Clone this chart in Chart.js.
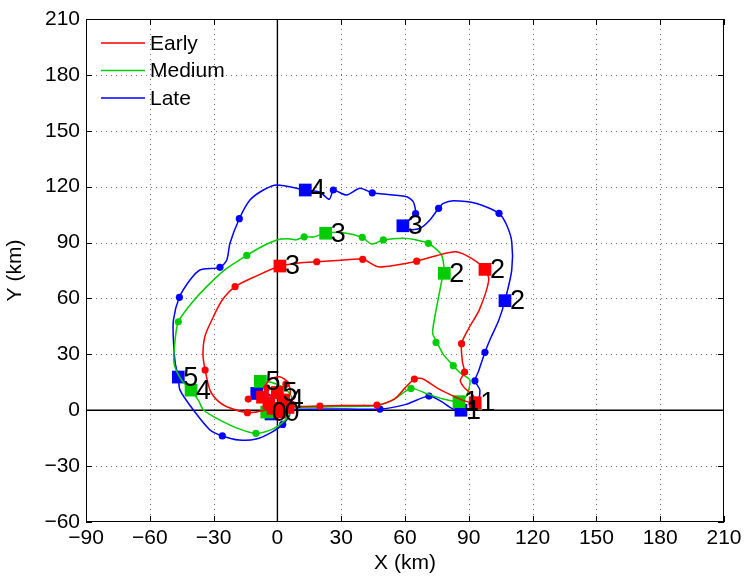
<!DOCTYPE html>
<html>
<head>
<meta charset="utf-8">
<script src="https://cdn.jsdelivr.net/npm/chart.js@4.4.1/dist/chart.umd.min.js"></script>
<style>
  html, body { margin: 0; padding: 0; background: #fff; }
  #wrap { width: 745px; height: 576px; }
</style>
</head>
<body>
<div id="wrap"><canvas id="trackChart" width="745" height="576"></canvas></div>
<script>
// axis ticks
const xTicks = [-90, -60, -30, 0, 30, 60, 90, 120, 150, 180, 210];
const yTicks = [-60, -30, 0, 30, 60, 90, 120, 150, 180, 210];
const seriesNames = ["Early", "Medium", "Late"];

// Early (red) track
const earlyPath = [[0,0],[5,2],[12,2],[20,2.2],[30,2.5],[40,2.6],[47,2.8],[55,6],[60,12],[64.4,16.7],[68,17],[75,12],[82,8],[88,5],[93,4],
  [92,8],[88,12],[86,16],[88,20.5],[87,26],[86.6,35.7],[90,44],[95,54],[99.4,69.9],[97.6,75.6],
  [92,81],[84,85],[75,83],[65.5,80],[56,78],[47.4,77],[40.1,81],[30,80.5],[18.5,79.7],[10,79],[1.2,77.4],
  [-10,72],[-19.9,66.3],[-26,59],[-30.1,50.2],[-34,40],[-35,30],[-34,21.6],[-31.7,10.8],[-28,5],[-23.8,1.9],[-14.1,-1.3],
  [-6,0],[-2,2],[3,5.5],[6,9],[5,15],[1,18],[-4,16],[-6,11],[-3,8],[0,9.5]];
const earlyDots = [[20,2.2],[46.8,2.8],[64.4,16.7],[88,20.5],[86.6,35.7],[65.5,80],[40.1,81],[18.5,79.7],
  [-19.9,66.3],[-34,21.6],[-14.1,-1.3],[-13.7,6],[-8,7],[-5,12],[4,14]];
const earlySquares = [[1,-1],[93,4],[97.6,75.6],[1.2,77.4],[3,5.5],[0,9.5],[-4,4],[-7,7],[5,1.5],[-2,1]];
const earlyLabels = ["0", "1", "2", "3", "4", "5", "", "", "", ""];

// Medium (green) track
const mediumPath = [[0,0],[5,1],[15,1.5],[30,2],[47,2.5],[55,6],[62.8,11.7],[70,9],[78,6],[85.4,4.6],
  [89,8],[90.5,16.2],[86,20],[82.7,23.9],[78,30],[74.9,36.8],[73,41.3],[74,50],[76,62],[77.7,71.7],[78.5,73.5],
  [77.2,83.3],[71,89.6],[65,91.5],[59.2,92.3],[49.8,91.4],[44.3,89.2],[39.9,92.8],[31,95.3],[22.7,95],
  [17,93],[12.6,93.1],[9,91.5],[5,92],[-0.3,91.4],[-7,88],[-14.4,83.1],[-24,76],[-31.7,68.1],[-40,58],[-46.6,47.5],
  [-48.1,37.7],[-48.6,25.2],[-45,16],[-40.6,10.8],
  [-37,5],[-34.8,0.1],[-27,-5.3],[-18,-10],[-10.1,-12.4],[-2,-10],[3,-6],[5.9,-1.5],[6.7,7.2],[3,12],[-3,15],[-8,15.5]];
const mediumDots = [[62.8,11.7],[82.7,23.9],[74.6,36.4],[71,89.6],[49.8,91.4],[39.9,92.8],[12.6,93.1],
  [-14.4,83.1],[-46.6,47.5],[-10.1,-12.4]];
const mediumSquares = [[-5,-1],[85.4,4.6],[78.5,73.5],[22.7,95],[-40.6,10.8],[-8,15.5]];
const mediumLabels = ["0", "1", "2", "3", "4", "5"];

// Late (blue) track
const latePath = [[0,0],[10,0.5],[25,0.7],[48.2,0.6],[60,3],[71.3,7.6],[77.2,4.6],[82,1],[86.3,0],
  [93.7,2.8],[95.2,10.8],[92.9,15.8],[94.5,20.7],[97.6,31.1],[100,38],[104,48],[107,58.8],
  [110.2,75.3],[110.2,90.4],[107.8,99.4],[104.2,105.7],[93.7,111],[82.7,112.5],[78,111],[75.8,108.4],[71.7,102.1],[67,97.6],[62,97],[59,99],
  [63,103],[65,105.5],[63.9,111.9],[60.8,114.6],[49.8,116],[44.6,116.7],[38.8,119.1],[32.6,115.5],[29,117],[26.3,118.2],[24.4,113.2],[20,117],[13.1,118.2],
  [-0.3,120.9],[-6.6,118.2],[-12.9,112.8],[-17.9,102.8],[-22.3,89.6],[-23.8,80.6],[-27,76.7],[-36.4,75.3],[-41.1,69.9],[-46.1,60.6],[-48.9,48.4],[-48.9,37.7],[-48,25],[-46.6,17.8],
  [-45.8,10.8],[-39.5,0.1],[-31.7,-10.6],[-25.9,-13.8],[-18,-16],[-10,-15.5],[-3,-12],[2.5,-7.6],[5.9,-1.7],[3,4],[-4,8],[-9.7,9]];
const lateDots = [[48.2,0.6],[71.3,7.6],[92.9,15.8],[97.6,31.1],[104.2,105.7],[75.8,108.4],[65,105.5],[44.6,116.7],[26.3,118.2],
  [-17.9,102.8],[-27,76.7],[-46.1,60.6],[-25.9,-13.8],[2.5,-7.6]];
const lateSquares = [[-3,-2],[86.3,0],[107,58.8],[59,99],[13.1,118.2],[-46.6,17.8],[-9.7,9]];
const lateLabels = ["", "1", "2", "3", "4", "5", ""];

const colors = ["#ff0000", "#00cc00", "#0000ff"];
const FONT = "'Liberation Sans', Arial, Helvetica, sans-serif";

const toXY = (arr) => arr.map((p) => ({ x: p[0], y: p[1] }));
const fmt = (v) => (v < 0 ? "\u2212" + Math.abs(v) : String(v));

const tracks = [
  { path: earlyPath, dots: earlyDots, squares: earlySquares, labels: earlyLabels },
  { path: mediumPath, dots: mediumDots, squares: mediumSquares, labels: mediumLabels },
  { path: latePath, dots: lateDots, squares: lateSquares, labels: lateLabels },
];

const datasets = [];
tracks.forEach((t, i) => {
  datasets.push({
    label: seriesNames[i] + " squares", data: toXY(t.squares), showLine: false,
    pointStyle: "rect", pointRadius: 9, backgroundColor: colors[i], borderColor: colors[i], borderWidth: 0,
    order: i * 3,
  });
  datasets.push({
    label: seriesNames[i] + " dots", data: toXY(t.dots), showLine: false,
    pointRadius: 3.6, backgroundColor: colors[i], borderColor: colors[i], borderWidth: 0,
    order: i * 3 + 1,
  });
  datasets.push({
    label: seriesNames[i], data: toXY(t.path), showLine: true, pointRadius: 0,
    borderColor: colors[i], borderWidth: 1.5, tension: 0.25, fill: false,
    order: i * 3 + 2,
  });
});

// grid, zero axes, box, legend and square labels
const decor = {
  id: "decor",
  beforeDatasetsDraw(chart) {
    const { ctx, chartArea: a, scales } = chart;
    ctx.save();
    ctx.strokeStyle = "rgba(0,0,0,0.55)";
    ctx.lineWidth = 1;
    ctx.setLineDash([1, 4]);
    xTicks.forEach((v) => {
      if (v === xTicks[0] || v === xTicks[xTicks.length - 1] || v === 0) return;
      const px = Math.round(scales.x.getPixelForValue(v)) + 0.5;
      ctx.beginPath(); ctx.moveTo(px, a.top); ctx.lineTo(px, a.bottom); ctx.stroke();
    });
    yTicks.forEach((v) => {
      if (v === yTicks[0] || v === yTicks[yTicks.length - 1] || v === 0) return;
      const py = Math.round(scales.y.getPixelForValue(v)) + 0.5;
      ctx.beginPath(); ctx.moveTo(a.left, py); ctx.lineTo(a.right, py); ctx.stroke();
    });
    ctx.setLineDash([]);
    ctx.strokeStyle = "#000";
    ctx.lineWidth = 1.4;
    const x0 = scales.x.getPixelForValue(0);
    const y0 = scales.y.getPixelForValue(0);
    ctx.beginPath(); ctx.moveTo(x0, a.top); ctx.lineTo(x0, a.bottom); ctx.stroke();
    ctx.beginPath(); ctx.moveTo(a.left, y0); ctx.lineTo(a.right, y0); ctx.stroke();
    ctx.restore();
  },
  afterDatasetsDraw(chart) {
    const { ctx, chartArea: a, scales } = chart;
    ctx.save();
    // box and inward ticks
    ctx.strokeStyle = "#000";
    ctx.lineWidth = 1;
    ctx.strokeRect(a.left + 0.5, a.top + 0.5, a.right - a.left - 1, a.bottom - a.top - 1);
    xTicks.forEach((v) => {
      const px = Math.round(scales.x.getPixelForValue(v)) + 0.5;
      ctx.beginPath();
      ctx.moveTo(px, a.bottom); ctx.lineTo(px, a.bottom - 6);
      ctx.moveTo(px, a.top); ctx.lineTo(px, a.top + 6);
      ctx.stroke();
    });
    yTicks.forEach((v) => {
      const py = Math.round(scales.y.getPixelForValue(v)) + 0.5;
      ctx.beginPath();
      ctx.moveTo(a.left, py); ctx.lineTo(a.left + 6, py);
      ctx.moveTo(a.right, py); ctx.lineTo(a.right - 6, py);
      ctx.stroke();
    });
    // square labels
    ctx.fillStyle = "#000";
    ctx.font = "27px " + FONT;
    ctx.textAlign = "left";
    ctx.textBaseline = "middle";
    tracks.forEach((t) => {
      t.squares.forEach((p, k) => {
        if (!t.labels[k]) return;
        const px = scales.x.getPixelForValue(p[0]);
        const py = scales.y.getPixelForValue(p[1]);
        ctx.fillText(t.labels[k], px + 5, py + 1);
      });
    });
    // legend
    ctx.font = "21px " + FONT;
    seriesNames.forEach((name, i) => {
      const ly = a.top + 24 + i * 27.5;
      ctx.strokeStyle = colors[i];
      ctx.lineWidth = 1.4;
      ctx.beginPath(); ctx.moveTo(a.left + 15, ly); ctx.lineTo(a.left + 59, ly); ctx.stroke();
      ctx.fillText(name, a.left + 64, ly + 1);
    });
    ctx.restore();
  },
};

const tickFont = { family: FONT, size: 21 };

new Chart(document.getElementById("trackChart"), {
  type: "scatter",
  data: { datasets: datasets },
  options: {
    responsive: false,
    animation: false,
    layout: { padding: { left: 0, right: 21, top: 19, bottom: 0 } },
    plugins: { legend: { display: false }, tooltip: { enabled: false } },
    scales: {
      x: {
        type: "linear", min: xTicks[0], max: xTicks[xTicks.length - 1],
        afterBuildTicks: (s) => { s.ticks = xTicks.map((v) => ({ value: v })); },
        ticks: { font: tickFont, color: "#000", padding: -4, maxRotation: 0, autoSkip: false, callback: fmt },
        grid: { display: false },
        border: { display: false },
        title: { display: true, text: "X (km)", font: tickFont, color: "#000", padding: { top: 0, bottom: 0 } },
        afterFit: (s) => { s.height = 54; },
      },
      y: {
        type: "linear", min: yTicks[0], max: yTicks[yTicks.length - 1],
        afterBuildTicks: (s) => { s.ticks = yTicks.map((v) => ({ value: v })); },
        ticks: { font: tickFont, color: "#000", padding: -2, autoSkip: false, callback: fmt },
        grid: { display: false },
        border: { display: false },
        title: { display: true, text: "Y (km)", font: tickFont, color: "#000", padding: { top: 3, bottom: 0 } },
        afterFit: (s) => { s.width = 86; },
      },
    },
  },
  plugins: [decor],
});
</script>
</body>
</html>
